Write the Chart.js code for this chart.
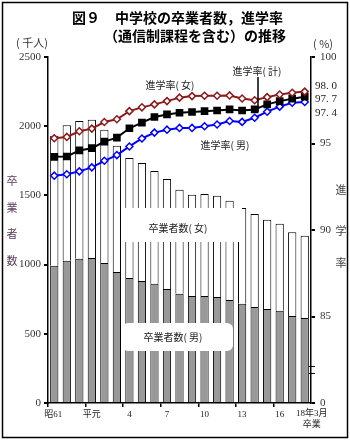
<!DOCTYPE html>
<html>
<head>
<meta charset="utf-8">
<script src="https://cdn.jsdelivr.net/npm/chart.js@4"></script>
<style>
  body { margin: 0; background: #fff; }
  canvas { display: block; }
</style>
</head>
<body>
<canvas id="myChart" width="350" height="441"></canvas>
<script>
// categories (卒業年)
let years = ['昭61', '62', '63', '平元', '2', '3', '4', '5', '6', '7', '8', '9', '10',
  '11', '12', '13', '14', '15', '16', '17', ['18年3月', '卒業']];
let shownLabels = [0, 3, 6, 9, 12, 15, 18, 20];

// 卒業者数 (千人)
let gradMale = [992, 1028, 1043, 1048, 1011, 946, 903, 882, 862, 824, 790, 773, 773, 766,
  744, 717, 694, 679, 667, 629, 614];
let gradFemale = [939, 978, 994, 999, 964, 913, 867, 852, 814, 794, 751, 732, 737, 732,
  718, 692, 672, 645, 629, 604, 595];

// 進学率 (%)
let rateFemale = [95.30, 95.38, 95.71, 95.86, 96.24, 96.40, 96.87, 97.09, 97.26, 97.45, 97.65,
  97.74, 97.76, 97.76, 97.78, 97.60, 97.50, 97.68, 97.83, 97.93, 98.0];
let rateTotal = [94.23, 94.25, 94.60, 94.73, 95.11, 95.34, 95.88, 96.21, 96.53, 96.68, 96.78,
  96.82, 96.87, 96.91, 96.97, 96.91, 96.97, 97.26, 97.45, 97.59, 97.7];
let rateMale = [93.14, 93.22, 93.39, 93.62, 94.00, 94.33, 94.83, 95.29, 95.63, 95.80, 95.90,
  95.90, 96.00, 96.10, 96.30, 96.25, 96.49, 96.84, 97.13, 97.36, 97.4];

let leftTicks = [0, 500, 1000, 1500, 2000, 2500];
let rightTicks = [80, 85, 90, 95, 100]; // 80 is shown as 0 (broken axis)

const serif = '"Liberation Serif", "DejaVu Serif", serif';
const gothic = '"Noto Sans CJK JP", "Noto Sans", sans-serif';

const extras = {
  id: 'extras',
  afterDatasetsDraw(chart) {
    const ctx = chart.ctx;
    ctx.save();
    // white label boxes
    ctx.fillStyle = '#fff';
    ctx.fillRect(123, 208, 119, 34);
    ctx.beginPath();
    ctx.roundRect(122, 323, 111, 28, 6);
    ctx.fill();

    ctx.fillStyle = '#222';
    ctx.font = '10px ' + gothic;
    ctx.textAlign = 'center';
    ctx.textBaseline = 'middle';
    ctx.fillText('卒業者数( 女)', 178, 228);
    ctx.fillText('卒業者数( 男)', 173, 337);
    ctx.fillText('進学率( 女)', 170, 85);
    ctx.fillText('進学率( 計)', 257, 71);
    ctx.fillText('進学率( 男)', 225, 145);

    // pointer for 計
    ctx.strokeStyle = '#000';
    ctx.lineWidth = 1.5;
    ctx.beginPath();
    ctx.moveTo(258, 77);
    ctx.lineTo(258, 112);
    ctx.stroke();
    ctx.restore();
  },
  afterDraw(chart) {
    const ctx = chart.ctx;
    const xs = chart.scales.x;
    const ys = chart.scales.y1;
    ctx.save();
    // title
    ctx.fillStyle = '#000';
    ctx.font = 'bold 14px ' + gothic;
    ctx.textBaseline = 'middle';
    ctx.textAlign = 'left';
    ctx.fillText('図９', 72, 18);
    ctx.fillText('中学校の卒業者数，進学率', 115, 18);
    ctx.fillText('（通信制課程を含む）の推移', 104, 36);

    // axis titles
    ctx.font = '11px ' + gothic;
    ctx.fillStyle = '#333';
    ctx.fillText('( 千人)', 16, 43);
    ctx.fillText('( %)', 313, 44);

    ctx.fillStyle = '#5a3d5a';
    ctx.textAlign = 'center';
    ['卒', '業', '者', '数'].forEach((c, i) => ctx.fillText(c, 12, 181 + i * 26.5));
    ctx.fillStyle = '#444';
    ctx.fillText('進', 341, 190);
    ctx.fillText('学', 341, 231);
    ctx.fillText('率', 341, 263);

    // right axis tick labels
    ctx.font = '11px ' + serif;
    ctx.fillStyle = '#333';
    ctx.textAlign = 'left';
    rightTicks.forEach(v => {
      ctx.fillText(v === 80 ? '0' : String(v), xs.right + 9, ys.getPixelForValue(v));
    });

    // x tick labels
    ctx.font = '9px ' + serif + ', ' + gothic;
    ctx.fillStyle = '#222';
    ctx.textAlign = 'center';
    shownLabels.forEach(i => {
      const lab = years[i];
      let px = xs.getPixelForTick(i);
      if (Array.isArray(lab)) {
        px += 7;
        lab.forEach((t, k) => ctx.fillText(t, px, xs.top + 11 + k * 11));
      } else {
        ctx.fillText(lab, px - (i === 0 ? 1 : 0), xs.top + 12);
      }
    });

    // end values
    ctx.font = '11px ' + serif;
    ctx.fillStyle = '#222';
    ctx.textAlign = 'left';
    ctx.fillText('98. 0', 315, 86);
    ctx.fillText('97. 7', 315, 99);
    ctx.fillText('97. 4', 315, 113);

    // break marks on right axis
    ctx.strokeStyle = '#000';
    ctx.lineWidth = 1;
    ctx.beginPath();
    ctx.moveTo(309, 366.5); ctx.lineTo(315, 366.5);
    ctx.moveTo(309, 373.5); ctx.lineTo(315, 373.5);
    ctx.stroke();

    // frame
    ctx.lineWidth = 1.5;
    ctx.strokeRect(2.5, 2.5, 345, 435);
    ctx.restore();
  }
};

let ctx = document.getElementById('myChart');
let myChart = new Chart(ctx, {
  type: 'bar',
  data: {
    labels: years,
    datasets: [{
      type: 'line',
      label: '進学率(女)',
      data: rateFemale,
      yAxisID: 'y1',
      order: 0,
      borderColor: '#8b1a1a',
      borderWidth: 2,
      pointStyle: 'rectRot',
      pointRadius: 3.5,
      pointBackgroundColor: '#fff',
      pointBorderColor: '#8b1a1a',
      pointBorderWidth: 1.5
    }, {
      type: 'line',
      label: '進学率(計)',
      data: rateTotal,
      yAxisID: 'y1',
      order: 0,
      borderColor: '#000',
      borderWidth: 2,
      pointStyle: 'rect',
      pointRadius: 4,
      pointBackgroundColor: '#000',
      pointBorderColor: '#000'
    }, {
      type: 'line',
      label: '進学率(男)',
      data: rateMale,
      yAxisID: 'y1',
      order: 0,
      borderColor: '#0000ff',
      borderWidth: 2,
      pointStyle: 'rectRot',
      pointRadius: 3.5,
      pointBackgroundColor: '#fff',
      pointBorderColor: '#0000ff',
      pointBorderWidth: 1.5
    }, {
      label: '卒業者数(男)',
      data: gradMale,
      yAxisID: 'y',
      order: 1,
      backgroundColor: '#999999',
      borderColor: '#000',
      borderWidth: 1,
      barPercentage: 0.66,
      categoryPercentage: 1
    }, {
      label: '卒業者数(女)',
      data: gradFemale,
      yAxisID: 'y',
      order: 1,
      backgroundColor: '#ffffff',
      borderColor: '#000',
      borderWidth: 1,
      barPercentage: 0.66,
      categoryPercentage: 1
    }]
  },
  options: {
    responsive: false,
    animation: false,
    devicePixelRatio: 1,
    layout: { padding: { top: 57, left: 0, right: 0, bottom: 0 } },
    plugins: {
      legend: { display: false },
      tooltip: { enabled: false }
    },
    scales: {
      x: {
        stacked: true,
        offset: true,
        afterFit: (s) => { s.height = 38; },
        border: { color: '#000', width: 1.5 },
        grid: {
          offset: true,
          drawOnChartArea: false,
          tickLength: 4,
          lineWidth: 1.5,
          color: (c) => (c.index % 3 === 0 ? '#000' : 'rgba(0,0,0,0)')
        },
        ticks: {
          autoSkip: false,
          maxRotation: 0,
          color: 'rgba(0,0,0,0)',
          callback: () => ''
        }
      },
      y: {
        stacked: true,
        position: 'left',
        min: 0,
        max: 2500,
        afterFit: (s) => { s.width = 48; },
        afterBuildTicks: (s) => { s.ticks = leftTicks.map(v => ({ value: v })); },
        border: { color: '#000', width: 1.5 },
        grid: { drawOnChartArea: false, tickLength: 4, color: '#000', lineWidth: 2 },
        ticks: {
          autoSkip: false,
          padding: 3,
          color: '#333',
          font: { size: 11, family: serif },
          callback: (v) => String(v)
        }
      },
      y1: {
        stacked: false,
        position: 'right',
        min: 80,
        max: 100,
        afterFit: (s) => { s.width = 39; },
        afterBuildTicks: (s) => { s.ticks = rightTicks.map(v => ({ value: v })); },
        border: { color: '#000', width: 1.5 },
        grid: { drawOnChartArea: false, tickLength: 4, color: '#000', lineWidth: 2 },
        ticks: {
          autoSkip: false,
          color: 'rgba(0,0,0,0)',
          callback: () => ''
        }
      }
    }
  },
  plugins: [extras]
});
</script>
</body>
</html>
